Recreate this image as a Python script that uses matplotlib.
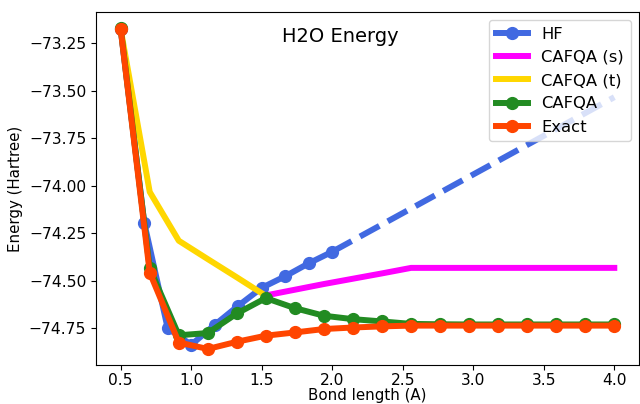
import matplotlib
matplotlib.use("Agg")
import matplotlib.pyplot as plt

# bond lengths (A) for the CAFQA / exact scans
bond = [0.5, 0.706, 0.912, 1.118, 1.324, 1.529, 1.735, 1.941, 2.147,
        2.353, 2.559, 2.765, 2.971, 3.176, 3.382, 3.588, 3.794, 4.0]

# HF scan was only run up to 2.0 A, then extrapolated (dashed)
hf_bond = [0.5, 0.667, 0.833, 1.0, 1.167, 1.333, 1.5, 1.667, 1.833, 2.0]
hf_energy = [-73.176, -74.195, -74.750, -74.838, -74.733, -74.633,
             -74.538, -74.477, -74.409, -74.348]
hf_ext_bond = [2.0, 4.0]
hf_ext_energy = [-74.348, -73.534]

# CAFQA singlet branch (visible from 1.53 A on)
s_bond = [1.529, 1.735, 1.941, 2.147, 2.353, 2.559, 2.765, 2.971,
          3.176, 3.382, 3.588, 3.794, 4.0]
s_energy = [-74.578, -74.548, -74.518, -74.490, -74.462, -74.433, -74.433,
            -74.433, -74.433, -74.433, -74.433, -74.433, -74.433]

# CAFQA triplet branch (visible up to 1.53 A)
t_bond = [0.5, 0.706, 0.912, 1.118, 1.324, 1.529]
t_energy = [-73.176, -74.033, -74.290, -74.387, -74.483, -74.580]

cafqa_energy = [-73.170, -74.435, -74.788, -74.776, -74.673, -74.592,
                -74.645, -74.685, -74.703, -74.715, -74.728, -74.730,
                -74.731, -74.731, -74.731, -74.731, -74.731, -74.731]
exact_energy = [-73.176, -74.458, -74.826, -74.860, -74.822, -74.790,
                -74.773, -74.755, -74.747, -74.741, -74.737, -74.737,
                -74.737, -74.737, -74.737, -74.737, -74.737, -74.737]

LW = 4.3
MS = 8.5
FS = 11.2

fig = plt.figure(figsize=(6.4, 4.04), dpi=100)
ax = fig.add_axes([0.15, 0.0965, 0.8484, 0.8738])

ax.plot(hf_bond, hf_energy, color="royalblue", lw=LW, marker="o", ms=MS, label="HF")
ax.plot(hf_ext_bond, hf_ext_energy, color="royalblue", lw=LW, ls="--")
ax.plot(s_bond, s_energy, color="magenta", lw=LW, label="CAFQA (s)")
ax.plot(t_bond, t_energy, color="gold", lw=LW, label="CAFQA (t)")
ax.plot(bond, cafqa_energy, color="forestgreen", lw=LW, marker="o", ms=MS, label="CAFQA")
ax.plot(bond, exact_energy, color="orangered", lw=LW, marker="o", ms=MS, label="Exact")

ax.set_xticks([0.5, 1.0, 1.5, 2.0, 2.5, 3.0, 3.5, 4.0])
ax.set_yticks([-73.25, -73.5, -73.75, -74.0, -74.25, -74.5, -74.75])
ax.tick_params(labelsize=FS)
ax.tick_params(axis="x", pad=2.5)
ax.set_xlabel("Bond length (A)", fontsize=10.8, labelpad=0)
ax.set_ylabel("Energy (Hartree)", fontsize=10.8)
ax.text(0.45, 0.914, "H2O Energy", transform=ax.transAxes, ha="center",
        va="baseline", fontsize=14)
ax.legend(loc="upper right", fontsize=11.8, handlelength=2.0)

fig.savefig("out.png", dpi=100)
